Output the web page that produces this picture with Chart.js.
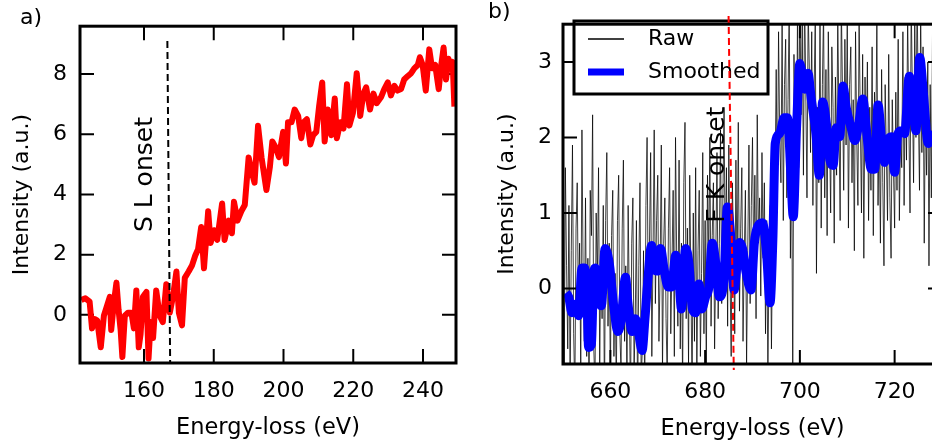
<!DOCTYPE html>
<html>
<head>
<meta charset="utf-8">
<script src="https://cdn.jsdelivr.net/npm/chart.js@4.4.1/dist/chart.umd.min.js"></script>
<style>
  html, body { margin: 0; padding: 0; background: #fff; overflow: hidden; }
  #wrapA { position: absolute; left: 0; top: 0; width: 470px; height: 443px; }
  #wrapB { position: absolute; left: 470px; top: 0; width: 480px; height: 443px; }
</style>
</head>
<body>
<div id="wrapA"><canvas id="chartA" width="470" height="443"></canvas></div>
<div id="wrapB"><canvas id="chartB" width="480" height="443"></canvas></div>
<script>
// ---- panel a : S L edge ----
var sEnergy = [142.0, 143.2, 144.4, 145.1, 145.9, 146.6, 147.6, 148.5, 149.5, 150.2,
  150.6, 151.4, 152.1, 152.7, 153.3, 153.8, 154.5, 155.4, 156.4, 157.1,
  157.8, 158.5, 159.0, 159.7, 160.7, 161.3, 161.9, 162.6, 163.5, 164.5,
  165.4, 166.4, 167.4, 168.3, 169.3, 170.0, 170.9, 171.7, 172.8, 173.8,
  174.7, 175.5, 176.4, 177.2, 178.4, 179.1, 180.1, 181.0, 182.4, 183.1,
  184.3, 185.2, 185.8, 186.8, 187.9, 188.9, 190.0, 191.0, 191.7, 192.7,
  193.7, 195.1, 196.1, 196.8, 197.8, 198.7, 199.9, 200.7, 201.3, 202.3,
  203.2, 204.2, 205.1, 205.8, 206.7, 207.7, 208.5, 209.4, 210.2, 211.1,
  211.8, 212.7, 213.7, 214.7, 215.3, 216.3, 217.2, 218.2, 218.9, 219.9,
  221.0, 222.0, 222.9, 223.7, 224.8, 225.8, 226.7, 228.0, 228.9, 229.9,
  230.8, 231.8, 232.7, 233.7, 234.6, 235.6, 236.6, 237.5, 238.5, 239.1,
  239.9, 240.8, 241.8, 242.6, 243.5, 244.5, 245.1, 245.9, 246.6, 247.3,
  248.0, 248.5, 249.0];
var sIntensity = [0.49, 0.55, 0.44, -0.45, -0.14, -0.19, -1.08, -0.03, 0.34, 0.60,
  -0.50, 0.44, 1.07, 0.18, -0.50, -1.40, -0.03, 0.07, 0.07, -0.45,
  0.81, -1.08, -0.66, 0.60, 0.76, -1.45, -0.24, -0.77, 0.81, -0.03,
  -0.24, 1.02, 0.07, 0.60, 1.44, 0.07, -0.35, 1.23, 1.44, 1.65,
  1.97, 2.18, 2.92, 1.55, 3.44, 2.39, 2.81, 2.49, 3.70, 2.49,
  3.13, 2.71, 3.76, 3.13, 3.44, 3.65, 5.23, 4.70, 4.39, 6.28,
  5.23, 4.15, 4.92, 5.76, 5.55, 5.24, 6.08, 5.03, 6.40, 6.40,
  6.82, 6.61, 5.87, 6.40, 6.50, 5.66, 5.97, 6.08, 6.92, 7.72,
  5.76, 6.82, 5.97, 7.19, 5.87, 6.40, 6.19, 7.66, 6.29, 6.71,
  8.03, 6.61, 7.35, 7.56, 6.82, 7.35, 7.03, 7.24, 7.50, 7.72,
  7.29, 7.61, 7.45, 7.50, 7.82, 7.93, 8.03, 8.19, 8.30, 8.56,
  8.30, 7.45, 8.82, 8.19, 8.30, 7.50, 8.19, 8.88, 7.82, 8.51,
  8.30, 8.40, 6.92];
var sOnsetX = [166.7, 167.5];
var sOnsetY = [9.1, -1.6];
var xTicksA = [160, 180, 200, 220, 240];
var yTicksA = [0, 2, 4, 6, 8];

// ---- panel b : F K edge ----
var rawEnergy = [
  650.00, 650.25, 650.50, 650.75, 651.00, 651.25, 651.50, 651.75, 652.00, 652.25,
  652.50, 652.75, 653.00, 653.25, 653.50, 653.75, 654.00, 654.25, 654.50, 654.75,
  655.00, 655.25, 655.50, 655.75, 656.00, 656.25, 656.50, 656.75, 657.00, 657.25,
  657.50, 657.75, 658.00, 658.25, 658.50, 658.75, 659.00, 659.25, 659.50, 659.75,
  660.00, 660.25, 660.50, 660.75, 661.00, 661.25, 661.50, 661.75, 662.00, 662.25,
  662.50, 662.75, 663.00, 663.25, 663.50, 663.75, 664.00, 664.25, 664.50, 664.75,
  665.00, 665.25, 665.50, 665.75, 666.00, 666.25, 666.50, 666.75, 667.00, 667.25,
  667.50, 667.75, 668.00, 668.25, 668.50, 668.75, 669.00, 669.25, 669.50, 669.75,
  670.00, 670.25, 670.50, 670.75, 671.00, 671.25, 671.50, 671.75, 672.00, 672.25,
  672.50, 672.75, 673.00, 673.25, 673.50, 673.75, 674.00, 674.25, 674.50, 674.75,
  675.00, 675.25, 675.50, 675.75, 676.00, 676.25, 676.50, 676.75, 677.00, 677.25,
  677.50, 677.75, 678.00, 678.25, 678.50, 678.75, 679.00, 679.25, 679.50, 679.75,
  680.00, 680.25, 680.50, 680.75, 681.00, 681.25, 681.50, 681.75, 682.00, 682.25,
  682.50, 682.75, 683.00, 683.25, 683.50, 683.75, 684.00, 684.25, 684.50, 684.75,
  685.00, 685.25, 685.50, 685.75, 686.00, 686.25, 686.50, 686.75, 687.00, 687.25,
  687.50, 687.75, 688.00, 688.25, 688.50, 688.75, 689.00, 689.25, 689.50, 689.75,
  690.00, 690.25, 690.50, 690.75, 691.00, 691.25, 691.50, 691.75, 692.00, 692.25,
  692.50, 692.75, 693.00, 693.25, 693.50, 693.75, 694.00, 694.25, 694.50, 694.75,
  695.00, 695.25, 695.50, 695.75, 696.00, 696.25, 696.50, 696.75, 697.00, 697.25,
  697.50, 697.75, 698.00, 698.25, 698.50, 698.75, 699.00, 699.25, 699.50, 699.75,
  700.00, 700.25, 700.50, 700.75, 701.00, 701.25, 701.50, 701.75, 702.00, 702.25,
  702.50, 702.75, 703.00, 703.25, 703.50, 703.75, 704.00, 704.25, 704.50, 704.75,
  705.00, 705.25, 705.50, 705.75, 706.00, 706.25, 706.50, 706.75, 707.00, 707.25,
  707.50, 707.75, 708.00, 708.25, 708.50, 708.75, 709.00, 709.25, 709.50, 709.75,
  710.00, 710.25, 710.50, 710.75, 711.00, 711.25, 711.50, 711.75, 712.00, 712.25,
  712.50, 712.75, 713.00, 713.25, 713.50, 713.75, 714.00, 714.25, 714.50, 714.75,
  715.00, 715.25, 715.50, 715.75, 716.00, 716.25, 716.50, 716.75, 717.00, 717.25,
  717.50, 717.75, 718.00, 718.25, 718.50, 718.75, 719.00, 719.25, 719.50, 719.75,
  720.00, 720.25, 720.50, 720.75, 721.00, 721.25, 721.50, 721.75, 722.00, 722.25,
  722.50, 722.75, 723.00, 723.25, 723.50, 723.75, 724.00, 724.25, 724.50, 724.75,
  725.00, 725.25, 725.50, 725.75, 726.00, 726.25, 726.50, 726.75, 727.00, 727.25,
  727.50, 727.75, 728.00, 728.25, 728.50, 728.75, 729.00, 729.25, 729.50, 729.75];
var rawIntensity = [
  0.9, -1.2, 1.6, 0.3, -0.8, 1.1, -1.3, 0.5, 1.9, -0.6,
  -1.4, 0.8, 1.4, -0.3, 0.6, -1.1, 2.1, 0.2, -0.7, 1.2,
  -0.9, 0.4, -1.5, 1.3, 0.7, 2.3, -0.8, -1.3, 1.0, 0.1,
  1.6, -1.0, 0.5, -0.4, 1.1, -1.6, 0.9, 1.8, -0.5, 0.6,
  -1.2, 0.7, 1.3, -0.9, 0.2, -1.4, 0.9, 1.5, -0.6, -1.1,
  0.8, 1.7, -0.7, 0.3, -1.3, 1.1, -0.2, -1.5, 0.6, 1.2,
  -1.1, -0.4, 0.9, -1.6, 0.3, 1.4, -1.2, -0.8, 0.5, -1.4,
  1.1, 2.0, -0.3, 0.6, 1.8, -0.9, 0.4, 2.1, -0.2, 0.9,
  1.5, -0.7, 0.2, 1.9, -1.1, 0.6, 1.2, -0.4, -1.2, 0.8,
  1.6, -0.6, 0.3, 1.3, -0.9, 2.0, 0.4, -0.5, 1.7, -0.8,
  0.6, -1.3, 1.4, 2.2, -0.4, 0.8, -1.0, 1.5, 0.1, -1.4,
  1.0, -0.7, 1.6, -1.2, 0.5, 1.3, -0.9, 0.2, 1.8, -0.6,
  0.9, -1.1, 1.5, 0.3, 2.0, -0.5, 0.7, 1.4, -0.8, 0.4,
  1.8, -0.4, 0.6, 2.1, -0.2, 1.2, 2.4, 0.3, 1.6, -0.5,
  1.9, 0.2, -0.9, 1.4, 0.6, -0.6, 1.7, 0.1, 2.2, -0.3,
  0.8, 1.6, -0.7, 0.4, 1.3, -1.0, 0.5, 1.9, -0.2, 1.1,
  2.0, 0.3, 1.5, -0.4, 2.3, 0.6, 1.2, -0.1, 1.8, 0.4,
  1.4, -0.6, 0.9, -1.2, 0.5, 1.1, -0.8, 0.7, 1.9, 1.4,
  2.9, 1.1, 3.4, 2.0, 1.4, 3.6, 0.9, 2.7, 3.3, 1.2,
  2.5, 3.8, 0.4, 1.9, -1.3, 3.1, 2.2, 1.0, 3.7, 1.6,
  4.0, 2.3, 3.5, 1.5, 3.9, 2.6, 1.2, 3.7, 2.9, 1.8,
  3.4, 1.1, 2.6, 3.6, 0.2, 2.4, 1.4, 3.5, 0.8, 2.7,
  3.7, 1.2, 2.9, 0.7, 3.4, 2.1, 1.0, 3.2, 2.4, 0.6,
  2.8, 1.5, 3.6, 2.2, 0.9, 3.8, 2.6, 1.3, 3.3, 1.9,
  3.5, 0.8, 2.7, 3.2, 1.4, 2.5, 0.5, 3.4, 2.0, 1.1,
  3.6, 2.3, 1.0, 3.1, 0.4, 2.8, 1.7, 3.0, 0.9, 2.4,
  1.3, 3.2, 0.7, 2.6, 1.9, 3.5, 1.1, 2.2, 0.6, 2.9,
  1.4, 0.3, 2.7, 1.8, 0.9, 3.1, 1.2, 0.4, 2.5, 1.6,
  0.8, 2.6, 1.3, 3.3, 0.9, 2.1, 1.6, 3.4, 1.1, 2.8,
  1.7, 3.6, 2.2, 1.0, 3.8, 2.6, 1.4, 3.5, 2.0, 3.9,
  2.4, 1.3, 3.7, 1.8, 3.2, 0.6, 2.5, 1.5, 3.0, 0.3,
  2.7, 1.2, 3.4, 0.9, 2.2, 1.6, 3.1, 1.0, 2.6, 1.8];
var smoothEnergy = [650.6, 651.2, 651.9, 652.6, 653.3, 654.0, 654.6, 655.1, 655.4, 656.0,
  656.5, 656.8, 657.5, 658.1, 658.9, 659.8, 660.7, 661.6, 662.3, 663.2,
  663.7, 664.6, 665.3, 666.0, 666.7, 667.3, 667.8, 668.7, 669.2, 669.9,
  670.6, 671.3, 672.2, 672.9, 673.8, 674.5, 675.0, 675.9, 676.6, 677.3,
  678.0, 678.7, 679.3, 680.1, 680.8, 681.5, 682.2, 683.0, 684.0, 684.7,
  685.4, 686.1, 686.8, 687.3, 687.9, 688.6, 689.7, 690.4, 691.1, 692.1,
  693.0, 693.7, 694.3, 694.8, 695.7, 696.7, 697.4, 698.1, 698.6, 699.3,
  700.0, 701.0, 701.7, 702.4, 703.4, 704.1, 704.8, 705.6, 706.3, 707.0,
  707.7, 708.4, 709.1, 709.8, 710.8, 711.6, 712.3, 713.3, 714.0, 715.1,
  715.8, 716.5, 717.2, 717.9, 718.6, 719.3, 720.0, 720.7, 721.4, 722.1,
  723.1, 723.8, 724.5, 725.3, 726.0, 727.1, 727.9];
var smoothIntensity = [-0.06, -0.11, -0.32, -0.21, -0.36, 0.27, 0.27, -0.19, -0.78, -0.74,
  0.23, 0.27, -0.15, -0.23, 0.53, 0.32, -0.23, -0.57, -0.40, 0.15,
  -0.19, -0.57, -0.40, -0.61, -0.82, -0.40, 0.02, 0.57, 0.27, 0.23,
  0.53, 0.27, 0.02, 0.02, 0.44, 0.11, -0.27, 0.53, 0.32, -0.27,
  -0.32, 0.06, -0.27, -0.11, 0.02, 0.60, 0.36, -0.11, 0.15, 1.08,
  0.70, -0.02, 0.36, 0.61, 0.53, 0.23, -0.02, 0.61, 0.82, 0.87,
  0.44, -0.19, 0.65, 1.92, 2.05, 2.26, 2.26, 1.50, 0.95, 2.13,
  2.98, 2.64, 2.85, 2.51, 2.05, 1.50, 2.47, 2.18, 1.71, 1.63,
  2.13, 2.01, 2.68, 2.39, 2.13, 1.96, 2.13, 2.51, 2.13, 1.58,
  1.58, 2.43, 2.01, 1.67, 1.96, 2.01, 1.54, 2.05, 2.09, 2.05,
  2.81, 2.51, 2.09, 3.06, 2.64, 1.92, 2.09];
var fOnsetX = [684.95, 686.05];
var fOnsetY = [3.61, -1.08];
var xTicksB = [660, 680, 700, 720];
var yTicksB = [0, 1, 2, 3];

var FONT = '"DejaVu Sans", "Liberation Sans", sans-serif';
Chart.defaults.color = '#000';
Chart.defaults.font.family = FONT;

function pts(xs, ys) {
  return xs.map(function (x, i) { return { x: x, y: ys[i] }; });
}

// inward ticks on all four sides
function drawTicks(chart) {
  var ctx = chart.ctx, a = chart.chartArea;
  var xs = chart.scales.x, ys = chart.scales.y;
  ctx.save();
  ctx.strokeStyle = '#000';
  ctx.lineWidth = 2;
  ctx.beginPath();
  xs.ticks.forEach(function (t) {
    var px = xs.getPixelForValue(t.value);
    ctx.moveTo(px, a.bottom); ctx.lineTo(px, a.bottom - 14);
    ctx.moveTo(px, a.top); ctx.lineTo(px, a.top + 14);
  });
  ys.ticks.forEach(function (t) {
    var py = ys.getPixelForValue(t.value);
    ctx.moveTo(a.left, py); ctx.lineTo(a.left + 14, py);
    ctx.moveTo(a.right, py); ctx.lineTo(a.right - 14, py);
  });
  ctx.stroke();
  ctx.restore();
}

function drawFrame(chart) {
  var ctx = chart.ctx, a = chart.chartArea;
  ctx.save();
  ctx.strokeStyle = '#000';
  ctx.lineWidth = 3;
  ctx.strokeRect(a.left, a.top, a.right - a.left, a.bottom - a.top);
  ctx.restore();
}

function note(chart, text, xv, yv, size) {
  var ctx = chart.ctx;
  var px = chart.scales.x.getPixelForValue(xv);
  var py = chart.scales.y.getPixelForValue(yv);
  ctx.save();
  ctx.translate(px, py);
  ctx.rotate(-Math.PI / 2);
  ctx.font = size + 'px ' + FONT;
  ctx.fillStyle = '#000';
  ctx.textAlign = 'center';
  ctx.textBaseline = 'alphabetic';
  ctx.fillText(text, 0, 0);
  ctx.restore();
}

function panelLabel(chart, text, x, y) {
  var ctx = chart.ctx;
  ctx.save();
  ctx.font = '22px ' + FONT;
  ctx.fillStyle = '#000';
  ctx.textBaseline = 'alphabetic';
  ctx.fillText(text, x, y);
  ctx.restore();
}

function axes(xmin, xmax, ymin, ymax, xt, yt, yw, xh, ypad, ytitlePad, xtitlePad) {
  return {
    x: {
      type: 'linear', min: xmin, max: xmax,
      grid: { display: false, drawTicks: false }, border: { display: false },
      afterBuildTicks: function (s) { s.ticks = xt.map(function (v) { return { value: v }; }); },
      afterFit: function (s) { s.height = xh; },
      ticks: { font: { size: 22 }, padding: 15, maxRotation: 0 },
      title: { display: true, text: 'Energy-loss (eV)', font: { size: 22.5 }, padding: { top: 0, bottom: xtitlePad } }
    },
    y: {
      type: 'linear', min: ymin, max: ymax,
      grid: { display: false, drawTicks: false }, border: { display: false },
      afterBuildTicks: function (s) { s.ticks = yt.map(function (v) { return { value: v }; }); },
      afterFit: function (s) { s.width = yw; },
      ticks: { font: { size: 22 }, padding: ypad },
      title: { display: true, text: 'Intensity (a.u.)', font: { size: 22 }, padding: { top: ytitlePad, bottom: 0 } }
    }
  };
}

new Chart(document.getElementById('chartA').getContext('2d'), {
  type: 'line',
  data: {
    datasets: [
      {
        label: 'S L onset', data: pts(sOnsetX, sOnsetY), order: 0,
        borderColor: '#000', borderWidth: 2, borderDash: [7, 4],
        pointRadius: 0, clip: false
      },
      {
        label: 'S L edge', data: pts(sEnergy, sIntensity), order: 1,
        borderColor: '#ff0000', borderWidth: 6, borderJoinStyle: 'round',
        pointRadius: 0, tension: 0
      }
    ]
  },
  options: {
    responsive: false, animation: false,
    layout: { padding: { left: 0, top: 9, right: 14, bottom: 0 } },
    plugins: { legend: { display: false }, tooltip: { enabled: false } },
    scales: axes(141.65, 249.46, -1.6, 9.59, xTicksA, yTicksA, 80, 80, 13, 9, 1)
  },
  plugins: [{
    id: 'decorA',
    beforeDatasetsDraw: function (chart) { drawTicks(chart); },
    afterDraw: function (chart) {
      drawFrame(chart);
      note(chart, 'S L onset', 162.4, 4.66, 25);
      panelLabel(chart, 'a)', 20, 24);
    }
  }]
});

new Chart(document.getElementById('chartB').getContext('2d'), {
  type: 'line',
  data: {
    datasets: [
      {
        label: 'F K onset', data: pts(fOnsetX, fOnsetY), order: 0,
        borderColor: '#ff0000', borderWidth: 2, borderDash: [7, 4],
        pointRadius: 0, clip: false
      },
      {
        label: 'Smoothed', data: pts(smoothEnergy, smoothIntensity), order: 1,
        borderColor: '#0000ff', borderWidth: 9, borderJoinStyle: 'round',
        pointRadius: 0, cubicInterpolationMode: 'monotone'
      },
      {
        label: 'Raw', data: pts(rawEnergy, rawIntensity), order: 2,
        borderColor: 'rgba(0,0,0,0.75)', borderWidth: 1,
        pointRadius: 0, tension: 0
      }
    ]
  },
  options: {
    responsive: false, animation: false,
    layout: { padding: { left: 0, top: 9, right: 8, bottom: 0 } },
    plugins: { legend: { display: false }, tooltip: { enabled: false } },
    scales: axes(650, 730, -1.0, 3.5, xTicksB, yTicksB, 93, 79, 11, 24, 0)
  },
  plugins: [{
    id: 'decorB',
    beforeDatasetsDraw: function (chart) { drawTicks(chart); },
    beforeDatasetDraw: function (chart, args) {
      if (args.index !== 0) return;
      // legend box, drawn before the onset line so the line crosses it
      var ctx = chart.ctx, ds = chart.data.datasets;
      var bx = 104, by = 21, bw = 194, bh = 73;
      ctx.save();
      ctx.setLineDash([]);
      ctx.lineCap = 'butt';
      ctx.fillStyle = '#fff';
      ctx.fillRect(bx, by, bw, bh);
      ctx.lineWidth = 3;
      ctx.strokeStyle = '#000';
      ctx.strokeRect(bx, by, bw, bh);
      [ds[2], ds[1]].forEach(function (d, i) {
        var y = by + 18 + i * 33;
        ctx.beginPath();
        ctx.strokeStyle = i === 0 ? '#000' : d.borderColor;
        ctx.lineWidth = i === 0 ? 1.5 : 7;
        ctx.moveTo(bx + 14, y); ctx.lineTo(bx + 50, y);
        ctx.stroke();
        ctx.fillStyle = '#000';
        ctx.font = '22px ' + FONT;
        ctx.textBaseline = 'middle';
        ctx.fillText(d.label, bx + 74, y);
      });
      ctx.restore();
    },
    afterDraw: function (chart) {
      drawFrame(chart);
      note(chart, 'F K onset', 683.9, 1.64, 25);
      panelLabel(chart, 'b)', 18, 18);
    }
  }]
});
</script>
</body>
</html>
